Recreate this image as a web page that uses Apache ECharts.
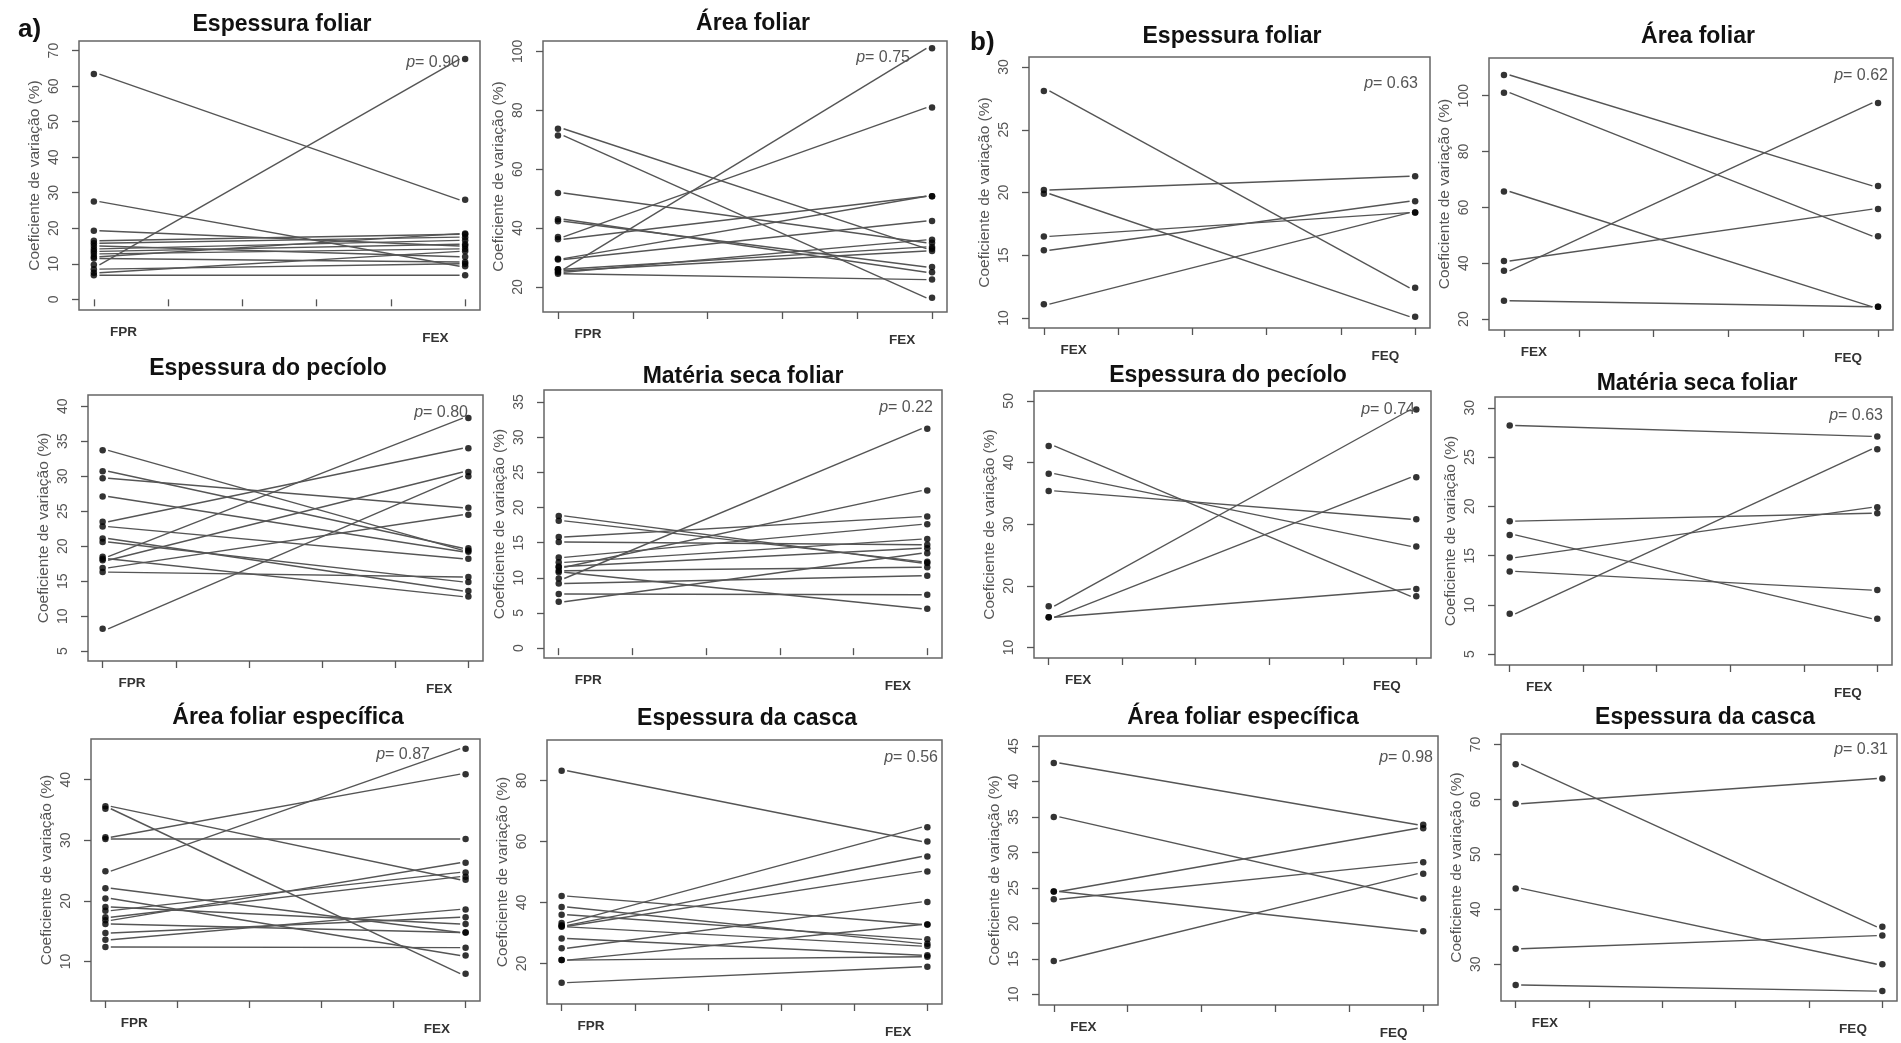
<!DOCTYPE html>
<html>
<head>
<meta charset="utf-8">
<script src="https://cdn.jsdelivr.net/npm/echarts@6/dist/echarts.min.js"></script>
<style>
html,body{margin:0;padding:0;background:#fff}
#main{width:1901px;height:1043px}
</style>
</head>
<body>
<div id="main"></div>
<script>
// grupos comparados
var grupoA = ['FPR', 'FEX'];
var grupoB = ['FEX', 'FEQ'];

var titulos = ['Espessura foliar', 'Área foliar', 'Espessura foliar', 'Área foliar',
  'Espessura do pecíolo', 'Matéria seca foliar', 'Espessura do pecíolo', 'Matéria seca foliar',
  'Área foliar específica', 'Espessura da casca', 'Área foliar específica', 'Espessura da casca'];
var pValores = ['0.90', '0.75', '0.63', '0.62', '0.80', '0.22', '0.74', '0.63', '0.87', '0.56', '0.98', '0.31'];

// coeficiente de variação (%) - pares (antes -> depois)
var espFoliarA_FPR = [63.4, 9.7, 27.5, 19.3, 16.5, 15.8, 15.0, 14.2, 13.5, 12.8, 12.0, 11.5, 8.5, 7.5, 6.8];
var espFoliarA_FEX = [28.0, 67.6, 9.3, 15.0, 18.3, 17.5, 12.0, 16.6, 15.5, 14.2, 18.5, 10.5, 10.0, 13.5, 6.8];
var areaFoliarA_FPR = [26.0, 37.0, 73.7, 71.4, 51.9, 43.0, 42.3, 36.2, 29.6, 29.3, 26.0, 25.5, 25.0, 24.5];
var areaFoliarA_FEX = [101.0, 80.9, 33.0, 16.3, 35.0, 25.0, 26.8, 50.8, 50.8, 42.4, 33.6, 32.2, 36.0, 22.5];
var espFoliarB_FEX = [28.1, 20.2, 19.9, 16.5, 15.4, 11.1];
var espFoliarB_FEQ = [12.4, 21.3, 10.1, 18.4, 19.3, 18.4];
var areaFoliarB_FEX = [107.4, 101.1, 65.7, 40.8, 37.3, 26.6];
var areaFoliarB_FEQ = [67.7, 49.7, 24.4, 59.4, 97.4, 24.4];
var espPecioloA_FPR = [33.7, 30.7, 29.7, 27.1, 23.5, 22.8, 21.1, 20.6, 18.5, 18.0, 16.9, 16.3, 8.2, 18.2];
var espPecioloA_FEX = [19.4, 19.7, 25.5, 19.2, 34.0, 18.2, 13.6, 14.9, 38.3, 30.6, 24.5, 15.6, 30.0, 12.8];
var materiaSecaA_FPR = [9.9, 11.5, 18.8, 18.1, 15.8, 15.1, 12.9, 12.2, 11.6, 11.0, 10.8, 9.2, 7.7, 6.6];
var materiaSecaA_FEX = [31.2, 22.4, 12.1, 12.3, 18.7, 14.7, 17.6, 15.5, 14.2, 11.5, 5.6, 10.3, 7.6, 13.5];
var espPecioloB_FEX = [42.7, 38.2, 35.4, 16.7, 14.9, 14.9];
var espPecioloB_FEQ = [18.3, 26.4, 30.8, 48.6, 37.6, 19.5];
var materiaSecaB_FEX = [28.2, 18.5, 17.1, 14.8, 13.4, 9.1];
var materiaSecaB_FEQ = [27.1, 19.3, 8.6, 19.9, 11.5, 25.8];
var areaEspA_FPR = [35.6, 35.2, 30.5, 30.2, 24.9, 22.1, 20.4, 19.0, 18.4, 17.3, 16.8, 16.2, 14.7, 13.6, 12.4];
var areaEspA_FEX = [23.5, 8.0, 40.9, 30.2, 45.1, 14.8, 11.0, 16.2, 24.7, 24.0, 26.3, 14.8, 17.3, 18.6, 12.3];
var cascaA_FPR = [83.2, 42.1, 38.5, 36.0, 33.3, 32.5, 32.2, 32.0, 28.2, 25.0, 21.1, 21.1, 13.7];
var cascaA_FEX = [60.0, 32.8, 26.5, 27.9, 64.7, 55.1, 50.2, 25.7, 22.7, 40.2, 32.8, 22.2, 18.9];
var areaEspB_FEX = [42.6, 35.0, 24.5, 23.4, 24.5, 14.7];
var areaEspB_FEQ = [33.9, 23.5, 33.4, 28.6, 18.9, 27.0];
var cascaB_FEX = [66.4, 59.2, 43.8, 32.8, 26.2];
var cascaB_FEQ = [36.8, 63.8, 30.0, 35.2, 25.1];

// marcas do eixo y
var ticksY = [
  [0, 10, 20, 30, 40, 50, 60, 70], [20, 40, 60, 80, 100], [10, 15, 20, 25, 30], [20, 40, 60, 80, 100],
  [5, 10, 15, 20, 25, 30, 35, 40], [0, 5, 10, 15, 20, 25, 30, 35], [10, 20, 30, 40, 50], [5, 10, 15, 20, 25, 30],
  [10, 20, 30, 40], [20, 40, 60, 80], [10, 15, 20, 25, 30, 35, 40, 45], [30, 40, 50, 60, 70]];

var antes = [espFoliarA_FPR, areaFoliarA_FPR, espFoliarB_FEX, areaFoliarB_FEX,
  espPecioloA_FPR, materiaSecaA_FPR, espPecioloB_FEX, materiaSecaB_FEX,
  areaEspA_FPR, cascaA_FPR, areaEspB_FEX, cascaB_FEX];
var depois = [espFoliarA_FEX, areaFoliarA_FEX, espFoliarB_FEQ, areaFoliarB_FEQ,
  espPecioloA_FEX, materiaSecaA_FEX, espPecioloB_FEQ, materiaSecaB_FEQ,
  areaEspA_FEX, cascaA_FEX, areaEspB_FEQ, cascaB_FEQ];
var grupos = [grupoA, grupoA, grupoB, grupoB, grupoA, grupoA, grupoB, grupoB, grupoA, grupoA, grupoB, grupoB];

// layout (px): caixa [left, top, width, height], faixa y, titulo, posicao do p
var caixas = [[79, 41, 401, 269], [543, 41, 404, 271], [1029, 57, 401, 271], [1489, 58, 404, 272],
  [88, 395, 395, 266], [544, 390, 398, 268], [1034, 391, 397, 267], [1495, 397, 397, 268],
  [91, 739, 389, 262], [547, 740, 395, 264], [1039, 736, 399, 269], [1501, 734, 396, 267]];
var faixaY = [[-3, 72.7], [11.5, 103.5], [9.2, 30.8], [16.1, 113.5], [3.6, 41.6], [-1.4, 36.7],
  [8.3, 51.6], [3.9, 31.1], [3.5, 46.7], [6.7, 93.3], [8.5, 46.4], [23.3, 71.9]];
var posTitulo = [[277, 21], [748, 20], [1227, 33], [1693, 33], [263, 365], [738, 373],
  [1223, 372], [1692, 380], [283, 714], [742, 715], [1238, 714], [1700, 714]];
var posP = [[25, 19], [42, 14], [17, 24], [10, 15], [20, 15], [14, 15], [21, 16], [14, 16],
  [55, 13], [9, 15], [10, 19], [14, 13]];

var myChart = echarts.init(document.getElementById('main'));

var grids = [], xAxes = [], yAxes = [], series = [];
var titles = [
  {text: 'a)', left: 13, top: 12, textStyle: {fontFamily: 'Liberation Sans', fontSize: 26, fontWeight: 'bold', color: '#111'}},
  {text: 'b)', left: 965, top: 25, textStyle: {fontFamily: 'Liberation Sans', fontSize: 26, fontWeight: 'bold', color: '#111'}}
];

for (var i = 0; i < 12; i++) {
  var c = caixas[i];
  grids.push({left: c[0], top: c[1], width: c[2], height: c[3], show: true,
    borderColor: '#666', borderWidth: 1.5, backgroundColor: 'transparent', containLabel: false});
  (function (g) {
    xAxes.push({
      type: 'value', gridIndex: i, min: 0.96, max: 2.04,
      axisLine: {show: false}, splitLine: {show: false},
      axisTick: {show: true, inside: false, length: 7, customValues: [1, 1.2, 1.4, 1.6, 1.8, 2],
        lineStyle: {color: '#555', width: 1.3}},
      axisLabel: {show: true, customValues: [1.08, 1.92], margin: 15,
        fontFamily: 'Liberation Sans', fontSize: 13.5, fontWeight: 'bold', color: '#333',
        formatter: function (v) { return v < 1.5 ? '{a|' + g[0] + '}' : '{b|' + g[1] + '}'; },
        rich: {a: {fontWeight: 'bold', fontSize: 13.5, color: '#333'},
               b: {fontWeight: 'bold', fontSize: 13.5, color: '#333', padding: [6, 0, 0, 0]}}}
    });
  })(grupos[i]);
  yAxes.push({
    type: 'value', gridIndex: i, min: faixaY[i][0], max: faixaY[i][1],
    name: 'Coeficiente de variação (%)', nameLocation: 'middle', nameGap: 36,
    nameTextStyle: {fontFamily: 'Liberation Sans', fontSize: 15.5, color: '#555'},
    axisLine: {show: false}, splitLine: {show: false},
    axisTick: {show: true, inside: false, length: 7, customValues: ticksY[i],
      lineStyle: {color: '#555', width: 1.3}},
    axisLabel: {show: true, customValues: ticksY[i], rotate: 90, margin: 18,
      fontFamily: 'Liberation Sans', fontSize: 14, color: '#555'}
  });
  titles.push({text: titulos[i], left: posTitulo[i][0], top: posTitulo[i][1] - 13, textAlign: 'center',
    textStyle: {fontFamily: 'Liberation Sans', fontSize: 23, fontWeight: 'bold', color: '#111'}});
  titles.push({text: '{i|p}= ' + pValores[i], left: c[0] + c[2] - posP[i][0], top: c[1] + posP[i][1] - 10,
    textAlign: 'right',
    textStyle: {fontFamily: 'Liberation Sans', fontSize: 16, fontWeight: 'normal', color: '#555',
      rich: {i: {fontFamily: 'Liberation Sans', fontSize: 16, fontStyle: 'italic', fontWeight: 'normal', color: '#555'}}}});

  var a = antes[i], b = depois[i];
  var pontos = [];
  for (var j = 0; j < a.length; j++) {
    series.push({type: 'line', xAxisIndex: i, yAxisIndex: i, silent: true,
      symbol: 'none', data: [[1.015, a[j]], [1.985, b[j]]],
      lineStyle: {color: '#555', width: 1.4}});
    pontos.push([1, a[j]]);
    pontos.push([2, b[j]]);
  }
  series.push({type: 'scatter', xAxisIndex: i, yAxisIndex: i, silent: true,
    symbol: 'circle', symbolSize: 6.5, data: pontos, itemStyle: {color: '#000'}, z: 5});
}

myChart.setOption({
  animation: false,
  backgroundColor: '#fff',
  title: titles,
  grid: grids,
  xAxis: xAxes,
  yAxis: yAxes,
  series: series
});
</script>
</body>
</html>
